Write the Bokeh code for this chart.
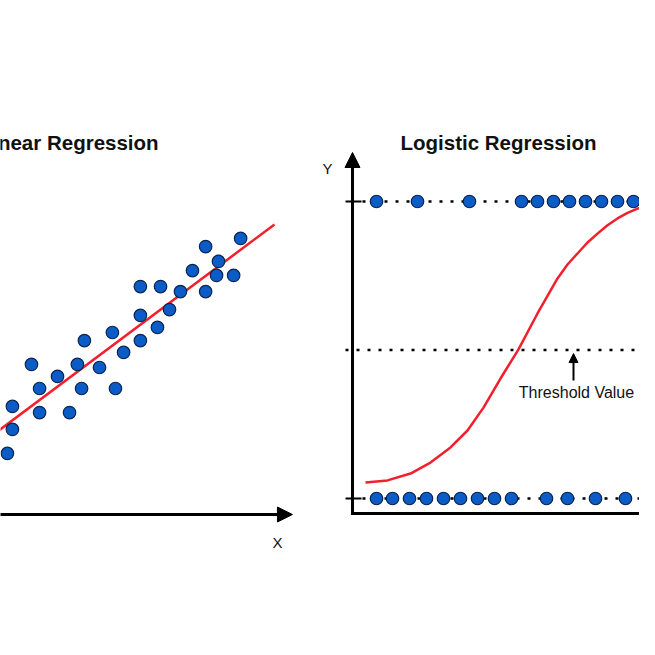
from bokeh.plotting import figure
from bokeh.layouts import row
from bokeh.models import Arrow, NormalHead, Range1d
from bokeh.core.properties import value
from bokeh.embed import file_html
from bokeh.resources import INLINE

# ---------------- data ----------------
# Linear regression panel (X, Y)
lin_x = [1.96, 2.14, 2.14, 3.11, 3.11, 2.82, 3.75, 4.18, 4.61, 4.46, 4.71, 5.25, 5.82, 5.71, 6.11,
         6.71, 7.32, 6.71, 7.75, 8.14, 9.04, 6.71, 7.43, 8.57, 9.43, 9.50, 10.04, 9.04, 10.29]
lin_y = [2.18, 3.04, 3.86, 3.64, 4.50, 5.36, 4.93, 3.64, 4.50, 5.36, 6.21, 5.25, 4.50, 6.50, 5.79,
         6.21, 6.68, 7.11, 7.32, 7.96, 7.96, 8.14, 8.14, 8.71, 8.54, 9.04, 8.54, 9.57, 9.86]
fit_x = [1.60, 11.50]
fit_y = [2.96, 10.36]

# Logistic regression panel
top_x = [1.2, 3.25, 5.85, 8.45, 9.25, 10.05, 10.85, 11.65, 12.45, 13.25, 14.05]
bot_x = [1.2, 2.0, 2.85, 3.7, 4.55, 5.4, 6.25, 7.1, 7.95, 9.7, 10.75, 12.15, 13.65]
curve_x = [0.65, 1.75, 2.9, 3.9, 4.9, 5.75, 6.55, 7.4, 8.3, 9.25, 10.25, 10.75, 11.25, 11.75,
           12.25, 12.75, 13.25, 13.75, 14.25, 15.15]
curve_y = [0.054, 0.061, 0.084, 0.121, 0.172, 0.229, 0.306, 0.404, 0.502, 0.623, 0.741, 0.788,
           0.825, 0.862, 0.892, 0.920, 0.943, 0.962, 0.976, 0.997]
threshold = 0.5
levels = [0, 1]

DOT_FILL = "#0b5cc7"
DOT_LINE = "#0a2450"
RED = "#f0202c"
FONT = value("Liberation Sans")

def base(width, xr, yr):
    p = figure(width=width, height=639, x_range=Range1d(*xr), y_range=Range1d(*yr),
               output_backend="svg", toolbar_location=None,
               x_axis_location=None, y_axis_location=None, min_border=0)
    p.grid.visible = False
    p.outline_line_color = None
    p.background_fill_color = "white"
    p.border_fill_color = "white"
    return p

# ---------------- left: linear regression ----------------
L = base(305, (1.714, 12.607), (-4.464, 18.357))
L.add_layout(Arrow(end=NormalHead(size=15, fill_color="black", line_color="black"),
                   x_start=1.5, y_start=0, x_end=12.14, y_end=0, line_width=3, line_color="black"))
L.line(fit_x, fit_y, line_color=RED, line_width=2.5)
L.scatter(lin_x, lin_y, size=12.5, fill_color=DOT_FILL, line_color=DOT_LINE, line_width=1.2)
L.text(x=[11.61], y=[-1.0], text=["X"], text_font=FONT, text_font_size="15px",
       text_align="center", text_baseline="middle", text_color="#111111")
L.text(x=[7.36], y=[13.29], text=["Linear Regression"], text_font=FONT, text_font_size="20.5px",
       text_font_style="bold", text_align="right", text_baseline="middle", text_color="#111111")

# ---------------- right: logistic regression ----------------
R = base(334, (-2.35, 14.35), (-0.4747, 1.6768))
axis_y = -0.0505
# dotted reference lines
R.line([0.5, 15.5], [levels[1], levels[1]], line_color="black", line_width=2.5, line_dash="3 8")
R.line([0.5, 15.5], [levels[0], levels[0]], line_color="black", line_width=2.5, line_dash="3 8")
R.line([-0.35, 15.5], [threshold, threshold], line_color="black", line_width=2.5, line_dash="3 8")
# tick marks
for lv in levels:
    R.line([-0.35, 0.45], [lv, lv], line_color="black", line_width=2)
# axes
R.line([0, 0, 16], [1.10, axis_y, axis_y], line_color="black", line_width=3, line_join="miter")
R.add_layout(Arrow(end=NormalHead(size=15, fill_color="black", line_color="black"),
                   x_start=0, y_start=1.0, x_end=0, y_end=1.165, line_width=3, line_color="black"))
# sigmoid
R.line(curve_x, curve_y, line_color=RED, line_width=2.5, line_join="round")
# points
R.scatter(top_x, [levels[1]] * len(top_x), size=12.5, fill_color=DOT_FILL, line_color=DOT_LINE, line_width=1.2)
R.scatter(bot_x, [levels[0]] * len(bot_x), size=12.5, fill_color=DOT_FILL, line_color=DOT_LINE, line_width=1.2)
# threshold annotation
R.add_layout(Arrow(end=NormalHead(size=9, fill_color="black", line_color="black"),
                   x_start=11.05, y_start=0.397, x_end=11.05, y_end=0.488, line_width=2, line_color="black"))
R.text(x=[11.2], y=[0.357], text=["Threshold Value"], text_font=FONT, text_font_size="16px",
       text_align="center", text_baseline="middle", text_color="#111111")
R.text(x=[-1.25], y=[1.11], text=["Y"], text_font=FONT, text_font_size="15px",
       text_align="center", text_baseline="middle", text_color="#111111")
R.text(x=[7.3], y=[1.198], text=["Logistic Regression"], text_font=FONT, text_font_size="20.5px",
       text_font_style="bold", text_align="center", text_baseline="middle", text_color="#111111")

layout = row(L, R)
open("out.html", "w").write(file_html(layout, INLINE))
